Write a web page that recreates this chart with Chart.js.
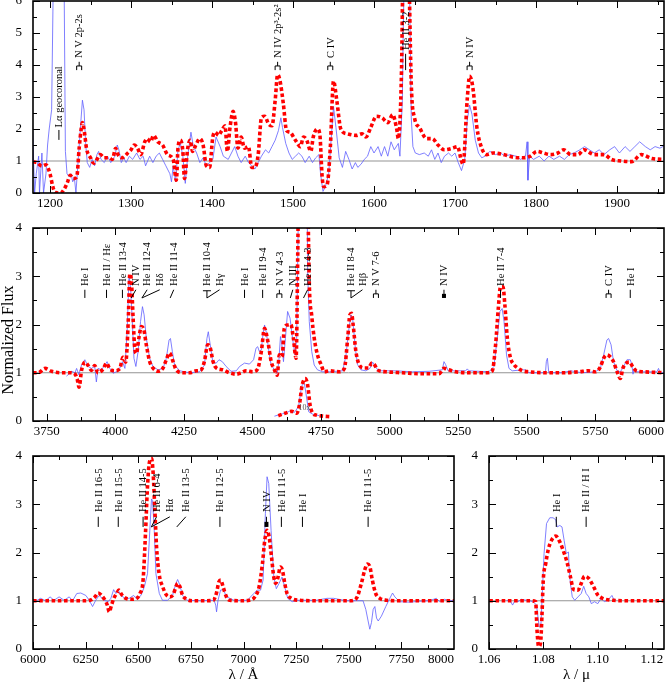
<!DOCTYPE html>
<html><head><meta charset="utf-8">
<script src="https://cdn.jsdelivr.net/npm/chart.js@4.4.1/dist/chart.umd.min.js"></script>
<style>
html,body{margin:0;padding:0;background:#fff;width:665px;height:685px;overflow:hidden;position:relative}
canvas{position:absolute}
</style></head><body>
<canvas id="c1" width="665" height="215" style="left:0;top:0"></canvas>
<canvas id="c2" width="665" height="230" style="left:0;top:215px"></canvas>
<canvas id="c3" width="465" height="240" style="left:0;top:445px"></canvas>
<canvas id="c4" width="200" height="240" style="left:465px;top:445px"></canvas>
<script>
// ---------------- DATA ----------------
// UV panel
const UV_OBS_WAVE=[1175,1178,1181,1183,1186,1187,1190,1192,1195,1197,1199,1202,1204,1210,1215,1217,1219,1221,1224,1226,1228,1230,1232,1235,1238,1240,1242,1244,1246,1249,1252,1255,1258,1260,1263,1267,1271,1275,1280,1283,1285,1288,1291,1294,1298,1302,1307,1311,1315,1318,1323,1327,1331,1335,1339,1343,1348,1350,1352,1355,1358,1361,1364,1367,1370,1374,1377,1381,1385,1389,1393,1397,1401,1405,1410,1414,1420,1424,1428,1432,1436,1441,1445,1449,1453,1457,1461,1466,1470,1474,1478,1482,1485,1487,1491,1495,1499,1503,1507,1511,1515,1520,1524,1528,1532,1534,1537,1540,1544,1547,1550,1553,1557,1561,1565,1569,1573,1577,1580,1584,1588,1592,1596,1600,1605,1609,1613,1617,1621,1625,1630,1632,1635,1636,1639,1643,1646,1648,1651,1656,1662,1667,1671,1675,1679,1683,1687,1692,1696,1700,1704,1708,1712,1715,1718,1721,1725,1729,1733,1737,1743,1750,1756,1762,1768,1775,1781,1787,1789,1790,1792,1797,1804,1810,1816,1822,1829,1835,1841,1847,1854,1860,1866,1872,1878,1884,1891,1897,1903,1910,1916,1922,1928,1935,1941,1947,1953,1960];
const UV_OBS_FLUX=[2.5,2.4,0,0.6,1.15,0,1.25,0,0.6,1.5,2.0,2.6,6.5,14,15,8,1.3,0.6,0.5,0.6,0.35,0.5,0,1.1,2.2,2.9,2.6,1.55,0.95,0.8,1.05,0.85,1.2,1.3,1.05,0.95,1.15,0.95,1.15,1.5,1.35,0.95,1.1,0.95,1.15,1.05,1.25,1.05,1.15,0.85,1.15,0.95,1.15,1.25,1.05,0.85,0.6,0.35,0.85,0.35,1.35,1.55,1.15,0.3,1.15,1.9,1.45,1.25,0.95,1.1,0.85,0.95,1.05,1.75,1.45,1.15,1.05,1.25,1.45,1.15,0.95,1.15,0.95,0.85,0.75,0.95,1.15,1.35,1.25,1.45,1.65,1.95,2.35,2.05,1.55,1.25,1.05,1.15,1.25,1.15,0.95,1.15,0.95,1.1,1.2,0.6,0.05,0.2,0.6,1.65,2.7,2.05,1.1,0.8,1.3,1.05,0.75,0.95,0.8,0.9,1.05,1.15,1.45,1.25,1.45,1.15,1.45,1.15,1.6,1.35,1.55,1.15,2.9,5.0,9,8,2.35,1.45,1.25,1.2,1.25,1.15,1.35,1.05,1.25,0.95,1.15,1.25,1.15,1.25,0.95,0.7,1.05,2.25,2.75,2.45,1.65,1.25,1.1,1.15,1.3,1.2,1.25,1.15,1.2,1.15,1.05,1.15,1.6,0.4,1.15,1.05,1.15,1.0,1.15,1.05,1.15,1.05,1.2,1.25,1.35,1.45,1.35,1.25,1.35,1.2,1.35,1.45,1.25,1.45,1.3,1.45,1.6,1.45,1.35,1.45,1.4,1.5];
const UV_MOD_WAVE=[1175,1180,1184,1190,1195,1200,1203,1206,1213,1217,1221,1225,1229,1233,1236,1238.5,1240,1242.5,1245,1250,1254,1258,1262,1267,1273,1277,1281,1284,1289,1296,1300,1304,1308,1312,1317,1320,1324,1328,1333,1339,1345,1352,1356,1358,1361,1364,1366,1370,1373,1376,1380,1385,1389,1393,1397,1401,1404,1408,1412,1416,1419,1422,1426,1429,1432,1436,1440,1445,1449,1453,1457,1461,1465,1470,1474,1478,1481,1484,1488,1492,1496,1503,1509,1513,1517,1522,1525,1530,1533,1536,1538,1542,1546,1550,1554,1559,1567,1578,1585,1590,1596,1603,1610,1617,1623,1628,1630,1634,1636,1640,1643,1646,1650,1656,1665,1672,1679,1687,1697,1703,1708,1710,1715,1718,1722,1727,1733,1739,1747,1760,1772,1784,1793,1801,1809,1818,1827,1834,1843,1852,1859,1872,1884,1893,1905,1918,1930,1943,1960];
const UV_MOD_FLUX=[1.16,0.98,0.95,0.84,0.88,0.6,0.25,0.03,0.0,0.1,0.3,0.55,0.45,0.5,1.4,2.0,2.2,1.9,1.4,1.1,0.93,1.05,1.2,1.1,1.1,1.05,1.4,1.2,1.1,1.25,1.35,1.5,1.4,1.2,1.6,1.7,1.6,1.8,1.6,1.5,1.2,1.05,0.4,1.4,1.65,1.3,0.45,1.4,1.65,1.3,1.5,1.7,1.5,0.85,0.8,1.75,1.9,1.8,1.95,2.1,1.3,2.0,2.55,2.2,1.4,1.75,1.4,1.45,0.8,0.8,1.2,2.35,2.4,2.15,2.1,2.9,3.7,3.5,2.8,1.95,1.9,1.65,1.45,1.75,1.65,1.3,1.75,2.0,1.85,0.5,0.2,0.25,1.4,3.5,2.9,2.0,1.85,1.8,1.85,1.75,2.05,2.4,2.35,2.2,2.45,2.0,1.7,3.9,7.5,9.5,7.0,3.4,2.35,2.05,1.7,1.7,1.5,1.35,1.4,1.45,1.0,0.9,2.9,3.65,3.3,2.05,1.4,1.2,1.25,1.2,1.12,1.1,1.15,1.3,1.25,1.2,1.25,1.35,1.2,1.2,1.35,1.2,1.2,1.05,1.0,0.98,1.2,1.08,1.05];
const UV_XTICKS=[1200,1300,1400,1500,1600,1700,1800,1900];
const UV_XMINOR=[1250,1350,1450,1550,1650,1750,1850,1950];
const UV_YTICKS=[0,1,2,3,4,5,6];
const UV_YMINOR=[0.5,1.5,2.5,3.5,4.5,5.5];
const UV_LINE_TEXT=['Lα geocoronal','N V 2p-2s','N IV 2p³-2s²','C IV','He II 3-2','N IV'];
const UV_LINE_AT=[1211,1236,1481,1546,1639,1718];
const UV_LINE_REST=[1211,1236,1481,1546,1639,1718];
const UV_LINE_MARK=['bar','doublet','doublet','doublet','bar','doublet'];

// Optical panel
const OPT_OBS_WAVE=[3822,3828,3841,3853,3859,3867,3877,3889,3901,3913,3925,3931,3937,3950,3962,3970,3980,3992,4004,4016,4026,4035,4043,4050,4056,4062,4068,4075,4083,4092,4099,4105,4113,4125,4137,4156,4174,4186,4196,4201,4208,4216,4235,4271,4307,4325,4334,4339,4346,4356,4368,4378,4390,4404,4422,4441,4453,4471,4489,4504,4513,4519,4525,4532,4538,4544,4550,4560,4568,4580,4590,4596,4602,4607,4613,4620,4628,4637,4646,4655,4661,4666,4670,4686,4698,4701,4707,4716,4725,4737,4756,4780,4829,4841,4850,4859,4865,4875,4883,4895,4913,4928,4938,4947,4960,5022,5083,5144,5192,5198,5204,5213,5277,5283,5289,5362,5380,5392,5402,5410,5417,5426,5435,5447,5484,5496,5508,5568,5571,5575,5580,5629,5659,5702,5750,5768,5780,5792,5798,5807,5816,5829,5841,5853,5865,5877,5883,5887,5892,5901,5944,5974,5980,5986,6000];
const OPT_OBS_FLUX=[0.93,0.96,1.03,1.0,1.09,0.96,1.16,1.27,1.13,1.09,1.13,0.81,1.09,1.06,1.16,1.23,1.09,0.99,1.02,1.09,1.23,1.09,1.85,2.99,2.75,2.06,1.3,1.13,1.44,2.06,2.37,2.2,1.72,1.3,1.13,1.06,1.09,1.3,1.68,1.71,1.44,1.16,1.04,1.0,1.02,1.16,1.71,1.85,1.58,1.2,1.2,1.27,1.23,1.13,1.03,1.04,1.13,1.2,1.18,1.27,1.51,1.54,1.44,1.47,1.78,1.99,1.85,1.44,1.16,1.06,0.99,1.23,1.75,1.58,1.23,1.71,2.27,2.13,1.71,1.37,1.71,3.78,6,10,6,3.1,2.06,1.44,1.16,1.06,1.02,1.02,1.04,1.37,1.85,2.2,2.13,1.51,1.17,1.06,1.04,1.09,1.22,1.13,1.04,1.04,1.02,1.03,1.06,1.23,1.17,1.04,1.04,1.08,1.04,1.02,1.13,1.71,2.27,2.33,2.06,1.37,1.09,1.04,1.06,1.06,1.0,1.0,1.23,1.3,1.0,1.0,1.04,1.0,1.02,1.09,1.37,1.68,1.71,1.58,1.23,1.04,1.02,1.13,1.27,1.27,1.17,0.97,1.09,1.02,1.02,1.02,1.09,1.0,1.0];
const OPT_MOD_WAVE=[3700,3719,3744,3768,3804,3835,3853,3861,3868,3877,3889,3901,3913,3925,3937,3956,3968,3980,3998,4016,4028,4038,4047,4053,4059,4065,4071,4077,4086,4095,4104,4113,4125,4137,4156,4174,4186,4198,4210,4222,4247,4271,4295,4313,4325,4337,4346,4356,4368,4392,4416,4441,4459,4477,4501,4519,4532,4544,4556,4568,4580,4590,4598,4608,4616,4628,4640,4649,4659,4665,4668,4678,4690,4701,4707,4716,4725,4737,4750,4762,4780,4816,4835,4847,4855,4861,4867,4877,4889,4907,4923,4935,4944,4956,4986,5047,5107,5180,5198,5216,5241,5289,5350,5374,5386,5396,5404,5413,5420,5429,5441,5453,5466,5484,5508,5568,5629,5689,5725,5750,5768,5780,5792,5804,5816,5829,5841,5850,5862,5875,5886,5899,5925,6000];
const OPT_MOD_FLUX=[1.0,1.0,1.09,1.03,1.0,1.0,0.97,0.87,0.7,1.05,1.22,1.15,1.05,1.15,1.0,1.08,1.2,1.08,1.04,1.08,1.32,1.22,2.05,3.05,2.88,2.12,1.5,1.4,1.72,1.96,1.89,1.58,1.24,1.1,1.03,1.1,1.27,1.41,1.24,1.06,1.0,1.0,1.04,1.06,1.24,1.58,1.52,1.24,1.1,1.06,1.0,0.97,1.0,1.04,1.02,1.08,1.43,1.92,1.65,1.24,1.06,0.95,1.37,1.33,1.92,1.99,2.0,1.72,1.3,3.45,5,8.5,9,5,2.87,2.18,1.72,1.37,1.17,1.02,1.04,1.02,1.09,1.71,2.2,2.23,1.99,1.44,1.17,1.1,1.1,1.2,1.17,1.06,1.02,1.0,0.98,0.98,1.09,1.06,1.02,1.0,1.0,1.04,1.57,2.33,2.78,2.78,2.4,1.71,1.3,1.17,1.1,1.04,1.02,1.0,1.0,1.02,1.04,1.02,1.12,1.3,1.37,1.33,1.23,1.02,0.88,1.09,1.2,1.22,1.12,1.04,1.02,1.0];
const OPT_OBS_INSET_WAVE=[4580,4610,4635,4653,4668,4677,4683,4689,4695,4705,4720,4744];
const OPT_OBS_INSET_FLUX=[0.1,0.15,0.2,0.18,0.3,0.64,0.79,0.78,0.57,0.19,0.14,0.11];
const OPT_MOD_INSET_WAVE=[4594,4618,4643,4661,4671,4679,4685,4692,4701,4710,4720,4734,4758,4782];
const OPT_MOD_INSET_FLUX=[0.11,0.16,0.2,0.16,0.33,0.68,0.82,0.88,0.75,0.33,0.16,0.12,0.1,0.09];
const OPT_XTICKS=[3750,4000,4250,4500,4750,5000,5250,5500,5750,6000];
const OPT_XMINOR=[3875,4125,4375,4625,4875,5125,5375,5625,5875];
const OPT_YTICKS=[0,1,2,3,4];
const OPT_YMINOR=[0.5,1.5,2.5,3.5];
const OPT_LINE_TEXT=['He I','He II / Hε','He II 13-4','N IV','He II 12-4','Hδ','He II 11-4','He II 10-4','Hγ','He I','He II 9-4','N V 4-3','N III','He II 4-3','He II 8-4','Hβ','N V 7-6','N IV','He II 7-4','C IV','He I'];
const OPT_LINE_AT=[3889,3968,4026,4075,4116,4162,4213,4334,4380,4471,4537,4598,4647,4701,4859,4901,4950,5198,5404,5798,5877];
const OPT_LINE_REST=[3889,3968,4026,4058,4097,4097,4200,4334,4334,4471,4537,4598,4638,4686,4859,4859,4945,5198,5404,5798,5877];
const OPT_LINE_MARK=['bar','bar','bar','leader','leader','leader','leader','T','leader','bar','bar','doublet','leader','leader','T','leader','doublet','block','bar','doublet','bar'];

// Red panel
const RED_OBS_WAVE=[5998,6020,6036,6060,6081,6100,6124,6148,6172,6188,6208,6227,6251,6267,6283,6298,6314,6338,6357,6370,6383,6394,6405,6418,6437,6457,6478,6494,6513,6529,6544,6555,6563,6568,6576,6584,6600,6615,6639,6663,6679,6687,6698,6710,6734,6797,6860,6868,6872,6879,6891,6904,6920,6955,7018,7049,7065,7081,7093,7104,7112,7120,7131,7144,7156,7169,7183,7196,7210,7231,7255,7346,7397,7428,7489,7536,7568,7581,7592,7600,7608,7616,7624,7632,7640,7655,7676,7695,7708,7719,7742,7790,7837,7884,7916,7932,7955,7979,8000];
const RED_OBS_FLUX=[1.0,1.01,1.05,1.0,1.08,1.01,1.08,1.01,1.08,1.0,1.15,1.16,1.11,1.01,0.88,1.01,1.11,1.01,0.98,1.05,1.23,1.15,1.22,1.11,1.05,1.05,1.11,1.03,1.11,1.29,1.56,2.46,3.11,3.08,2.46,1.56,1.15,1.01,1.01,1.11,1.36,1.44,1.32,1.11,1.01,1.0,1.01,0.91,0.77,1.01,1.22,1.23,1.08,1.01,1.01,1.15,1.22,1.22,1.43,2.81,3.57,3.43,2.46,1.49,1.25,1.36,1.49,1.29,1.05,0.98,1.01,1.01,1.05,1.05,1.0,1.0,1.0,0.82,0.58,0.41,0.55,0.82,0.88,0.64,0.58,0.68,0.88,1.05,1.16,1.08,0.98,0.97,0.99,1.0,1.05,0.98,1.03,1.0,1.01];
const RED_MOD_WAVE=[6000,6081,6160,6239,6271,6294,6310,6326,6342,6353,6362,6373,6384,6397,6408,6421,6437,6468,6492,6508,6523,6535,6543,6552,6563,6571,6579,6587,6599,6616,6634,6650,6666,6679,6687,6698,6710,6729,6761,6824,6856,6871,6883,6892,6903,6919,6935,6982,7030,7054,7074,7090,7101,7112,7122,7133,7144,7153,7164,7175,7185,7196,7207,7228,7267,7346,7449,7505,7536,7560,7576,7588,7600,7612,7628,7647,7679,7726,7884,8000];
const RED_MOD_FLUX=[1.0,1.0,1.0,1.0,1.01,1.08,1.16,1.11,1.01,0.91,0.77,0.91,1.05,1.15,1.22,1.13,1.06,1.03,1.05,1.15,1.43,2.46,3.29,3.84,3.95,3.63,2.87,2.11,1.56,1.29,1.12,1.08,1.13,1.29,1.36,1.29,1.12,1.03,1.0,1.0,1.01,1.15,1.39,1.43,1.29,1.08,1.01,1.0,1.01,1.08,1.29,1.77,2.25,2.46,2.32,1.91,1.49,1.36,1.49,1.7,1.63,1.36,1.15,1.05,1.01,1.0,1.0,1.0,1.05,1.36,1.64,1.76,1.71,1.43,1.15,1.05,1.01,1.0,1.0,1.0];
const RED_XTICKS=[6000,6250,6500,6750,7000,7250,7500,7750,8000];
const RED_XMINOR=[6125,6375,6625,6875,7125,7375,7625,7875];
const RED_LINE_TEXT=['He II 16-5','He II 15-5','He II 14-5','He II 6-4','Hα','He II 13-5','He II 12-5','N IV','He II 11-5','He I','He II 11-5'];
const RED_LINE_AT=[6310,6405,6523,6587,6650,6726,6888,7109,7180,7280,7592];
const RED_LINE_REST=[6310,6405,6523,6562,6562,6683,6888,7109,7180,7280,7592];
const RED_LINE_MARK=['bar','bar','bar','leader','leader','leader','bar','block','bar','bar','bar'];

// Near-IR panel
const IR_OBS_WAVE=[1.0665,1.0677,1.0687,1.0695,1.0707,1.0720,1.0738,1.0750,1.0765,1.0775,1.0785,1.0791,1.0797,1.0803,1.0812,1.0824,1.0836,1.0846,1.0851,1.0861,1.0869,1.0877,1.0885,1.0893,1.0895,1.0900,1.0907,1.0916,1.0928,1.0940,1.0949,1.0958,1.0968,1.0977,1.0989,1.1001,1.1013,1.1025,1.1038,1.1053,1.1058,1.1068];
const IR_OBS_FLUX=[1.0,1.01,0.91,1.0,0.98,1.03,1.01,1.0,0.97,0.91,0.46,0.46,1.22,1.98,2.6,2.72,2.72,2.68,2.53,2.56,2.53,2.25,1.98,2.01,1.7,1.36,1.08,1.01,1.08,1.15,1.3,1.15,1.08,0.94,0.98,0.94,1.05,0.98,1.01,1.11,1.05,1.01];
const IR_MOD_WAVE=[1.0601,1.0653,1.0702,1.0750,1.0772,1.0777,1.0783,1.0790,1.0795,1.0800,1.0809,1.0818,1.0830,1.0846,1.0861,1.0873,1.0887,1.0900,1.0912,1.0928,1.0940,1.0952,1.0968,1.0983,1.1001,1.1019,1.1056,1.1117,1.1245];
const IR_MOD_FLUX=[1.0,1.0,1.0,1.0,0.98,0.39,0.05,0.12,0.67,1.43,1.77,2.05,2.25,2.34,2.22,2.05,1.81,1.5,1.23,1.22,1.36,1.51,1.46,1.32,1.12,1.05,1.01,1.0,1.0];
const IR_XTICKS=[1.06,1.08,1.10,1.12];
const IR_XMINOR=[1.07,1.09,1.11];
const IR_LINE_TEXT=['He I','He II / H I'];
const IR_LINE_AT=[1.0848,1.0958];
const IR_LINE_REST=[1.0848,1.0958];
const IR_LINE_MARK=['bar','bar'];

const Y_TITLE='Normalized Flux';

// ---------------- RENDERING ----------------
const FONT='Liberation Serif';
Chart.defaults.font.family=FONT;
Chart.defaults.color='#000';
const pts=(w,f)=>w.map((x,i)=>({x:x,y:f[i]}));
const PADR='\u00a0\u00a0\u00a0\u00a0\u00a0\u00a0\u00a0\u00a0';

const frameTicks={
  id:'frameTicks',
  afterDatasetsDraw(chart){
    const o=chart.options.plugins.frameTicks; if(!o) return;
    const {ctx,chartArea:a,scales:{x,y}}=chart;
    ctx.save();
    ctx.strokeStyle='#000';ctx.lineWidth=1;
    const seg=(x1,y1,x2,y2)=>{ctx.beginPath();ctx.moveTo(x1,y1);ctx.lineTo(x2,y2);ctx.stroke();};
    const xt=(vals,len)=>vals.forEach(v=>{const p=Math.round(x.getPixelForValue(v))+0.5;if(p<a.left||p>a.right)return;seg(p,a.bottom,p,a.bottom-len);seg(p,a.top,p,a.top+len);});
    const yt=(vals,len)=>vals.forEach(v=>{const p=Math.round(y.getPixelForValue(v))+0.5;seg(a.left,p,a.left+len,p);seg(a.right,p,a.right-len,p);});
    xt(o.xMajor,7);xt(o.xMinor,4);yt(o.yMajor,7);yt(o.yMinor,4);
    ctx.lineWidth=1.6;
    ctx.strokeRect(a.left,a.top,a.right-a.left,a.bottom-a.top);
    if(o.ytitle){ctx.save();ctx.translate(o.ytitle.x,o.ytitle.y);ctx.rotate(-Math.PI/2);
      ctx.font='16px "'+FONT+'"';ctx.fillStyle='#000';ctx.textAlign='center';ctx.textBaseline='middle';
      ctx.fillText(o.ytitle.t,0,0);ctx.restore();}
    ctx.restore();
  }
};

const lineLabels={
  id:'lineLabels',
  afterDatasetsDraw(chart){
    const o=chart.options.plugins.lineLabels; if(!o) return;
    const {ctx,scales:{x,y}}=chart;
    ctx.save();
    ctx.strokeStyle='#000';ctx.fillStyle='#000';ctx.lineWidth=1;
    ctx.font='10.5px "'+FONT+'"';
    const seg=(x1,y1,x2,y2)=>{ctx.beginPath();ctx.moveTo(x1,y1);ctx.lineTo(x2,y2);ctx.stroke();};
    o.text.forEach((t,i)=>{
      const sp=(o.special&&o.special[i])||{};
      const y0=sp.y0!==undefined?sp.y0:o.y0, y1=sp.y1!==undefined?sp.y1:o.y1, ty=sp.ty!==undefined?sp.ty:o.ty;
      const xt=x.getPixelForValue(o.at[i]), xm=x.getPixelForValue(o.rest[i]);
      const pb=y.getPixelForValue(y0), pt=y.getPixelForValue(y1), ps=y.getPixelForValue(ty);
      const k=o.mark[i];
      if(k==='bar'){seg(xt,pt,xt,pb);}
      else if(k==='leader'){seg(xt,pt,xm,pb);}
      else if(k==='T'){seg(xt,pt+1,xt,pb);seg(xt-4,pt+1,xt+4,pt+1);}
      else if(k==='doublet'){const m=(pt+pb)/2;seg(xt,pt,xt,m);seg(xt-2.5,m,xt+2.5,m);seg(xt-2.5,m,xt-2.5,pb);seg(xt+2.5,m,xt+2.5,pb);}
      else if(k==='block'){seg(xt,pt,xt,pb);ctx.fillRect(xt-2,(pt+pb)/2,4,(pb-pt)/2);}
      ctx.save();ctx.translate(xt,ps);ctx.rotate(-Math.PI/2);ctx.textAlign='left';ctx.textBaseline='middle';ctx.fillText(t,0,0.5);ctx.restore();
    });
    if(o.note){ctx.font='8px "'+FONT+'"';ctx.fillStyle='#555';ctx.textAlign='center';ctx.textBaseline='middle';
      ctx.fillText(o.note.t,x.getPixelForValue(o.note.x),y.getPixelForValue(o.note.y));}
    ctx.restore();
  }
};

function makeChart(id,c){
  const ds=[
    {data:pts([c.xmin,c.xmax],[1,1]),borderColor:'#939393',borderWidth:1,pointRadius:0,order:3},
  ];
  c.obs.forEach(s=>ds.push({data:pts(s[0],s[1]),borderColor:'#5f5fff',borderWidth:0.8,pointRadius:0,tension:0,order:2}));
  c.mod.forEach(s=>ds.push({data:pts(s[0],s[1]),borderColor:'#ff0000',borderWidth:3.6,borderDash:[3.6,2.6],pointRadius:0,cubicInterpolationMode:'monotone',order:1}));
  return new Chart(document.getElementById(id),{
    type:'line',
    data:{datasets:ds},
    options:{
      responsive:false,animation:false,events:[],
      layout:{autoPadding:false,padding:{top:c.padTop,right:c.padRight,left:0,bottom:0}},
      plugins:{legend:{display:false},tooltip:{enabled:false},
        frameTicks:{xMajor:c.xt,xMinor:c.xm,yMajor:c.yt,yMinor:c.ym,ytitle:c.ytitle},
        lineLabels:c.labels},
      scales:{
        x:{type:'linear',min:c.xmin,max:c.xmax,
          afterBuildTicks:s=>{s.ticks=c.xt.map(v=>({value:v}));},
          afterFit:s=>{s.height=c.xh;s.paddingLeft=0;s.paddingRight=0;s.paddingTop=0;s.paddingBottom=0;},
          grid:{display:false,drawTicks:false},border:{display:false},
          ticks:{font:{family:FONT,size:13},color:'#000',padding:3,maxRotation:0,autoSkip:false,
            callback:(v,i,arr)=>{const s=c.fmt?c.fmt(v):String(v);return (c.shiftLast&&i===arr.length-1)?s+PADR:s;}},
          title:c.xtitle?{display:true,text:c.xtitle,font:{family:FONT,size:15},color:'#000',padding:{top:0,bottom:1}}:{display:false}},
        y:{type:'linear',min:c.ymin,max:c.ymax,
          afterBuildTicks:s=>{s.ticks=c.yt.map(v=>({value:v}));},
          afterFit:s=>{s.width=c.yw;s.paddingLeft=0;s.paddingRight=0;s.paddingTop=0;s.paddingBottom=0;},
          grid:{display:false,drawTicks:false},border:{display:false},
          ticks:{font:{family:FONT,size:13},color:'#000',padding:11,autoSkip:false}}
      }
    },
    plugins:[frameTicks,lineLabels]
  });
}

makeChart('c1',{xmin:1179,xmax:1958,ymin:0,ymax:6,padTop:1,padRight:1,xh:22,yw:33,
  obs:[[UV_OBS_WAVE,UV_OBS_FLUX]],mod:[[UV_MOD_WAVE,UV_MOD_FLUX]],
  xt:UV_XTICKS,xm:UV_XMINOR,yt:UV_YTICKS,ym:UV_YMINOR,
  labels:{text:UV_LINE_TEXT,at:UV_LINE_AT,rest:UV_LINE_REST,mark:UV_LINE_MARK,y0:3.84,y1:4.1,ty:4.22,
    special:{0:{y0:1.66,y1:1.97,ty:2.05},4:{y0:3.84,y1:4.35,ty:4.47}}}});

makeChart('c2',{xmin:3700,xmax:6000,ymin:0,ymax:4,padTop:13,padRight:1,xh:24,yw:33,shiftLast:true,
  obs:[[OPT_OBS_WAVE,OPT_OBS_FLUX],[OPT_OBS_INSET_WAVE,OPT_OBS_INSET_FLUX]],
  mod:[[OPT_MOD_WAVE,OPT_MOD_FLUX],[OPT_MOD_INSET_WAVE,OPT_MOD_INSET_FLUX]],
  xt:OPT_XTICKS,xm:OPT_XMINOR,yt:OPT_YTICKS,ym:OPT_YMINOR,
  ytitle:{t:Y_TITLE,x:9,y:125},
  labels:{text:OPT_LINE_TEXT,at:OPT_LINE_AT,rest:OPT_LINE_REST,mark:OPT_LINE_MARK,y0:2.55,y1:2.72,ty:2.8,
    note:{t:'10x',x:4690,y:0.27}}});

makeChart('c3',{xmin:6000,xmax:8000,ymin:0,ymax:4,padTop:11,padRight:11,xh:36,yw:33,shiftLast:true,
  obs:[[RED_OBS_WAVE,RED_OBS_FLUX]],mod:[[RED_MOD_WAVE,RED_MOD_FLUX]],
  xt:RED_XTICKS,xm:RED_XMINOR,yt:OPT_YTICKS,ym:OPT_YMINOR,xtitle:'λ / Å',
  labels:{text:RED_LINE_TEXT,at:RED_LINE_AT,rest:RED_LINE_REST,mark:RED_LINE_MARK,y0:2.53,y1:2.74,ty:2.84}});

makeChart('c4',{xmin:1.06,xmax:1.1245,ymin:0,ymax:4,padTop:11,padRight:1,xh:36,yw:24,
  obs:[[IR_OBS_WAVE,IR_OBS_FLUX]],mod:[[IR_MOD_WAVE,IR_MOD_FLUX]],
  xt:IR_XTICKS,xm:IR_XMINOR,yt:OPT_YTICKS,ym:OPT_YMINOR,xtitle:'λ / μ',fmt:v=>v.toFixed(2),
  labels:{text:IR_LINE_TEXT,at:IR_LINE_AT,rest:IR_LINE_REST,mark:IR_LINE_MARK,y0:2.53,y1:2.74,ty:2.84}});
</script>
</body></html>
